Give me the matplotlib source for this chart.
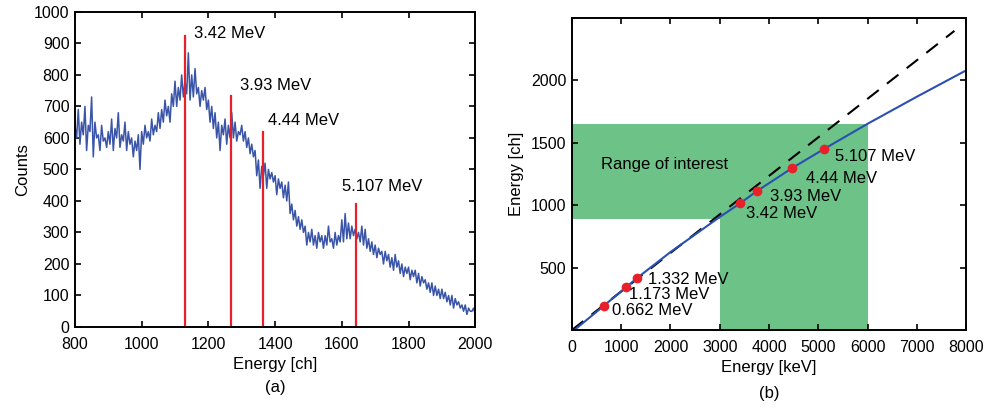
import numpy as np
import matplotlib.pyplot as plt

plt.rcParams['font.family'] = ['Liberation Sans', 'DejaVu Sans']

# Espectro (a): cuentas cada 5 canales, de 800 a 2000
ch = np.arange(800, 2001, 5)
counts = [
    640, 600, 690, 580, 650, 610, 700, 560, 640, 620,
    730, 540, 650, 600, 610, 560, 640, 590, 600, 570,
    620, 580, 660, 560, 630, 600, 680, 570, 610, 590,
    650, 560, 620, 580, 600, 540, 590, 560, 610, 500,
    620, 580, 640, 600, 620, 590, 660, 610, 640, 620,
    680, 630, 690, 650, 720, 670, 700, 650, 740, 700,
    780, 700, 760, 720, 800, 730, 780, 740, 870, 720,
    800, 730, 820, 740, 760, 700, 750, 720, 760, 690,
    720, 650, 700, 630, 680, 600, 650, 560, 640, 610,
    660, 580, 640, 600, 680, 600, 650, 590, 620, 610,
    640, 590, 620, 570, 600, 550, 580, 540, 560, 480,
    530, 440, 510, 480, 520, 440, 500, 470, 490, 460,
    480, 420, 470, 440, 460, 410, 450, 400, 460, 360,
    390, 340, 370, 320, 350, 310, 340, 300, 320, 260,
    300, 270, 310, 260, 290, 250, 300, 270, 290, 250,
    290, 260, 320, 270, 280, 250, 300, 260, 290, 270,
    340, 270, 360, 280, 330, 280, 320, 290, 310, 280,
    300, 270, 320, 260, 310, 250, 280, 240, 270, 230,
    260, 220, 250, 230, 240, 200, 240, 210, 230, 190,
    220, 180, 230, 190, 210, 170, 200, 160, 190, 170,
    190, 150, 180, 160, 180, 140, 170, 130, 160, 140,
    150, 120, 140, 110, 140, 100, 130, 100, 120, 90,
    120, 90, 110, 80, 100, 70, 100, 60, 90, 70,
    80, 60, 70, 50, 70, 40, 60, 50, 50, 60,
    40,
]

# Líneas de los picos en (a)
peak_ch = [1130, 1268, 1365, 1643]
peak_top = [924, 734, 618, 390]
peak_lbl = ['3.42 MeV', '3.93 MeV', '4.44 MeV', '5.107 MeV']
peak_lbl_xy = [(1157, 932), (1295, 765), (1380, 655), (1600, 445)]

# Calibración (b)
cal_kev = [647, 1093, 1313, 3407, 3760, 4460, 5107]
cal_ch = [194, 341, 414, 1014, 1115, 1296, 1449]
cal_lbl = ['0.662 MeV', '1.173 MeV', '1.332 MeV', '3.42 MeV',
           '3.93 MeV', '4.44 MeV', '5.107 MeV']
cal_lbl_xy = [(813, 153), (1160, 282), (1547, 409), (3540, 933),
              (4027, 1067), (4740, 1215), (5347, 1390)]

fit_kev = [50, 647, 1093, 1313, 2000, 3000, 3407, 3760, 4460, 5107, 6000, 7000, 8000]
fit_ch = [0, 194, 341, 414, 625, 906, 1014, 1115, 1296, 1449, 1653, 1870, 2081]

lin_kev = [0, 7760]
lin_ch = [0, 2397]

fig = plt.figure(figsize=(9.86, 4.09), dpi=100)
ax1 = fig.add_axes([0.076, 0.2005, 0.406, 0.7705])
ax2 = fig.add_axes([0.580, 0.193, 0.400, 0.763])

fs = 12
tfs = 11.5

# ---------------- (a) ----------------
ax1.plot(ch, counts, color='#3a55a8', lw=1.1)
for x, top in zip(peak_ch, peak_top):
    ax1.plot([x, x], [0, top], color='#e8202a', lw=1.6)
for t, (x, y) in zip(peak_lbl, peak_lbl_xy):
    ax1.text(x, y, t, fontsize=fs, va='center', ha='left')
ax1.set_xlim(800, 2000)
ax1.set_ylim(0, 1000)
ax1.set_xticks(range(800, 2001, 200))
ax1.set_yticks(range(0, 1001, 100))
ax1.set_xlabel('Energy [ch]', fontsize=fs, labelpad=4)
ax1.set_ylabel('Counts', fontsize=fs, labelpad=3)
fig.text(0.279, 0.052, '(a)', fontsize=fs, ha='center', va='center')

# ---------------- (b) ----------------
ax2.fill_between([0, 6000], 890, 1653, color='#6cc287', lw=0)
ax2.fill_between([3000, 6000], 0, 890, color='#6cc287', lw=0)
ax2.plot(lin_kev, lin_ch, color='black', lw=1.5, ls=(0, (7, 5)))
ax2.plot(fit_kev, fit_ch, color='#2a50b0', lw=1.5)
ax2.plot(cal_kev, cal_ch, 'o', color='#e8202a', ms=7, mec='none')
for t, (x, y) in zip(cal_lbl, cal_lbl_xy):
    ax2.text(x, y, t, fontsize=fs, va='center', ha='left')
ax2.text(600, 1323, 'Range of interest', fontsize=fs, va='center', ha='left')
ax2.set_xlim(0, 8000)
ax2.set_ylim(0, 2500)
ax2.set_xticks(range(0, 8001, 1000))
ax2.set_yticks([500, 1000, 1500, 2000])
ax2.set_xlabel('Energy [keV]', fontsize=fs, labelpad=4)
ax2.set_ylabel('Energy [ch]', fontsize=fs, labelpad=5)
fig.text(0.78, 0.039, '(b)', fontsize=fs, ha='center', va='center')

for ax in (ax1, ax2):
    ax.tick_params(direction='in', top=True, right=True, labelsize=tfs,
                   length=4, width=1.2, pad=4)
    ax.tick_params(axis='x', pad=7)
    for s in ax.spines.values():
        s.set_linewidth(1.4)

fig.savefig('out.png', dpi=100)
